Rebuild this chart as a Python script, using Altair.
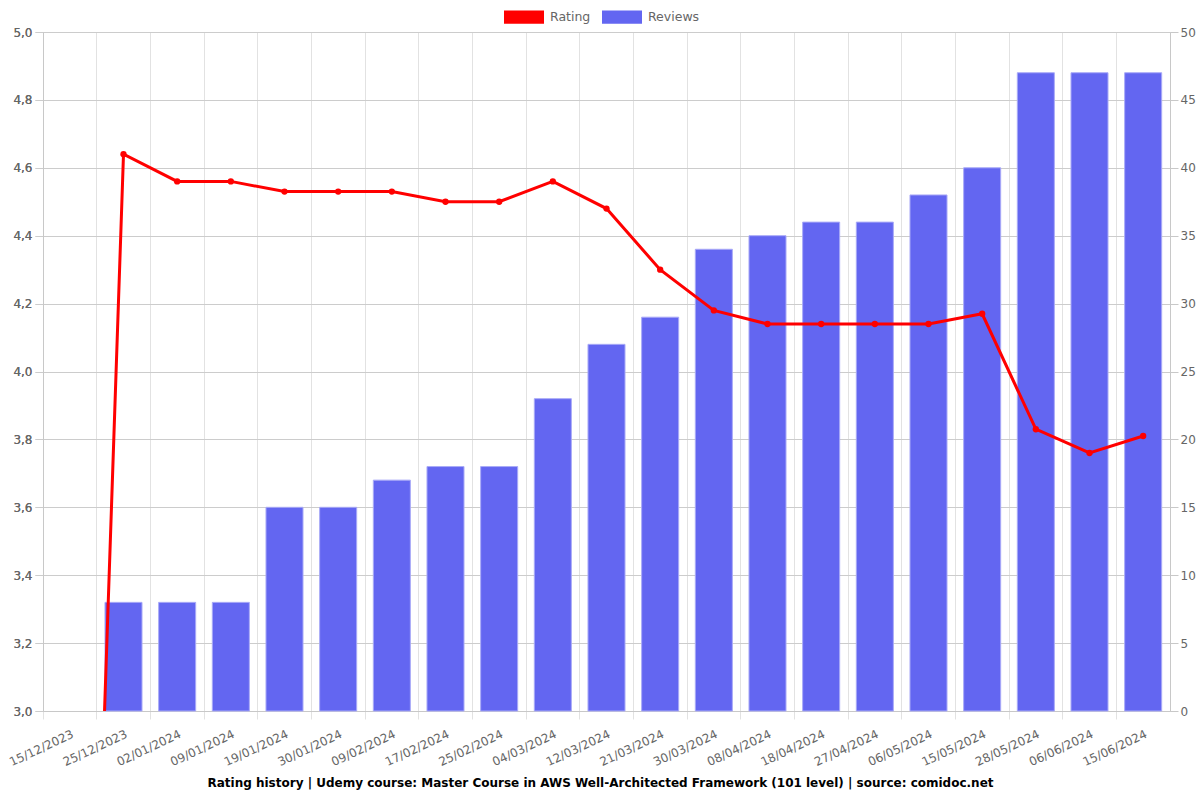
import altair as alt
import pandas as pd

dates = ["15/12/2023", "25/12/2023", "02/01/2024", "09/01/2024", "19/01/2024",
         "30/01/2024", "09/02/2024", "17/02/2024", "25/02/2024", "04/03/2024",
         "12/03/2024", "21/03/2024", "30/03/2024", "08/04/2024", "18/04/2024",
         "27/04/2024", "06/05/2024", "15/05/2024", "28/05/2024", "06/06/2024",
         "15/06/2024"]
ratings = [0, 4.64, 4.56, 4.56, 4.53, 4.53, 4.53, 4.50, 4.50, 4.56,
           4.48, 4.30, 4.18, 4.14, 4.14, 4.14, 4.14, 4.17, 3.83, 3.76, 3.81]
reviews = [None, 8, 8, 8, 15, 15, 17, 18, 18, 23,
           27, 29, 34, 35, 36, 36, 38, 40, 47, 47, 47]

df = pd.DataFrame({"date": dates, "rating": ratings, "reviews": reviews})
df["series"] = "Reviews"

FONT = "DejaVu Sans"
LABEL = "#666666"

x_enc = alt.X(
    "date:N", sort=dates, title=None,
    scale=alt.Scale(paddingInner=0, paddingOuter=0),
    axis=alt.Axis(bandPosition=0, grid=True, gridColor="#e2e2e2",
                  tickColor="#e2e2e2", tickSize=8, domainColor="#c8c8c8",
                  labelAngle=-25, labelAlign="right", labelBaseline="middle",
                  labelOffset=3, labelPadding=14, labelColor=LABEL,
                  labelFontSize=12, labelFont=FONT),
)

bars = alt.Chart(df).mark_bar(
    width=alt.RelativeBandSize(0.69), stroke="#a9aaf7", strokeWidth=1
).encode(
    x=x_enc,
    y=alt.Y("reviews:Q", title=None,
            scale=alt.Scale(domain=[0, 50], nice=False, zero=True),
            axis=alt.Axis(orient="right", values=list(range(0, 51, 5)),
                          grid=False, tickSize=8, tickColor="#c8c8c8",
                          domainColor="#c8c8c8", labelColor=LABEL,
                          labelFontSize=12, labelFont=FONT, labelPadding=2)),
    color=alt.Color("series:N",
                    scale=alt.Scale(domain=["Rating", "Reviews"],
                                    range=["#ff0000", "#6366f1"]),
                    legend=alt.Legend(
                        title=None, orient="none", legendX=461, legendY=-35,
                        direction="horizontal",
                        symbolType="M-1,-0.33H1V0.33H-1Z", symbolSize=1600,
                        symbolOpacity=1, symbolStrokeWidth=0,
                        labelFontSize=12.5, labelFont=FONT, labelColor=LABEL,
                        labelOffset=6, columnPadding=11)),
)

y_rating = alt.Y(
    "rating:Q", title=None,
    scale=alt.Scale(domain=[3, 5], nice=False, zero=False),
    axis=alt.Axis(orient="left", values=[3, 3.2, 3.4, 3.6, 3.8, 4, 4.2, 4.4, 4.6, 4.8, 5],
                  labelExpr="replace(format(datum.value, '.1f'), '.', ',')",
                  grid=True, gridColor="#cccccc", tickSize=8, tickColor="#cccccc",
                  domainColor="#c8c8c8", labelColor=LABEL, labelFontSize=12,
                  labelFont=FONT, labelPadding=3),
)

line = alt.Chart(df).mark_line(color="#ff0000", strokeWidth=3, clip=True).encode(
    x=x_enc, y=y_rating
)
points = alt.Chart(df).mark_circle(color="#ff0000", size=40, opacity=1, clip=True).encode(
    x=x_enc, y=y_rating
)

chart = alt.layer(bars, line, points).resolve_scale(y="independent").properties(
    width=1127, height=679,
    padding={"left": 43, "top": 32, "right": 30, "bottom": 89},
    autosize=alt.AutoSizeParams(type="none"),
    title=alt.TitleParams(
        text="Rating history | Udemy course: Master Course in AWS Well-Architected Framework (101 level) | source: comidoc.net",
        orient="bottom", anchor="middle", fontSize=12, fontWeight="bold",
        font=FONT, color="#000000", offset=10, dx=-6),
).configure_view(stroke=None).configure(background="white")

chart.save("out.html", embed_options={"renderer": "svg", "actions": False})
